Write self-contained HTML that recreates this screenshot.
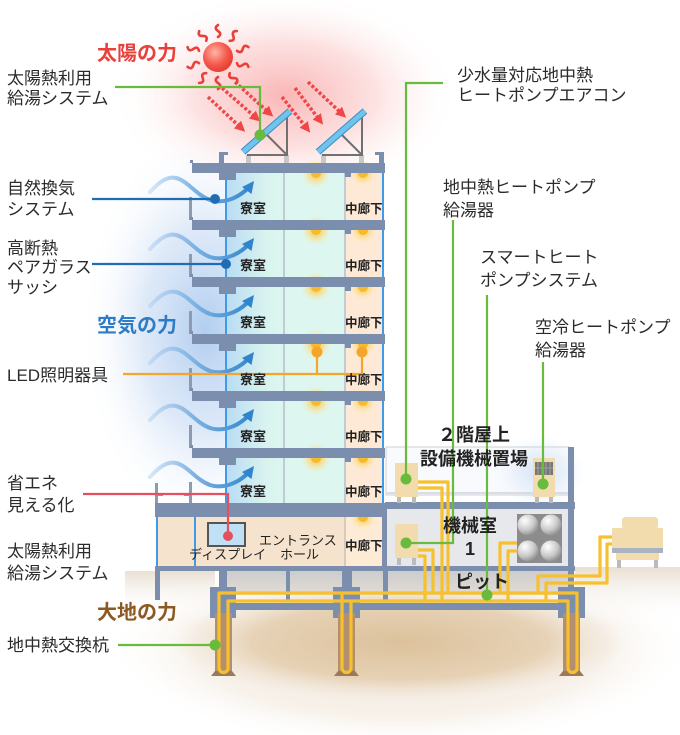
<!DOCTYPE html>
<html><head><meta charset="utf-8">
<style>
html,body{margin:0;padding:0;background:#fff;width:680px;height:735px;overflow:hidden;}
svg{display:block;}
text{font-family:"Liberation Sans","Noto Sans CJK JP",sans-serif;}
.lb{font-size:17px;fill:#2b2b2b;}
.rm{font-size:13px;font-weight:bold;fill:#222;}
.cr{font-size:12.5px;font-weight:bold;fill:#222;}
.big{font-size:20px;font-weight:bold;}
.eq{font-size:18px;font-weight:bold;fill:#222;}
</style></head><body>
<svg width="680" height="735" viewBox="0 0 680 735" xmlns="http://www.w3.org/2000/svg">
<defs>
 <radialGradient id="pink"><stop offset="0" stop-color="#f9a9a9" stop-opacity="0.85"/><stop offset="0.5" stop-color="#fbc6c6" stop-opacity="0.55"/><stop offset="1" stop-color="#ffffff" stop-opacity="0"/></radialGradient>
 <radialGradient id="blueg"><stop offset="0" stop-color="#a9c8ee" stop-opacity="0.9"/><stop offset="0.5" stop-color="#c8dbf4" stop-opacity="0.6"/><stop offset="1" stop-color="#ffffff" stop-opacity="0"/></radialGradient>
 <radialGradient id="g1"><stop offset="0" stop-color="#efe3d4" stop-opacity="1"/><stop offset="0.7" stop-color="#f4ece2" stop-opacity="0.7"/><stop offset="1" stop-color="#ffffff" stop-opacity="0"/></radialGradient>
 <radialGradient id="g2"><stop offset="0" stop-color="#dcc19b"/><stop offset="0.65" stop-color="#e5cfb1" stop-opacity="0.9"/><stop offset="1" stop-color="#efe3d4" stop-opacity="0"/></radialGradient>
 <radialGradient id="sun" cx="0.4" cy="0.35" r="0.7"><stop offset="0" stop-color="#ffb4a6"/><stop offset="0.6" stop-color="#f3574a"/><stop offset="1" stop-color="#e33a2e"/></radialGradient>
 <radialGradient id="lg"><stop offset="0" stop-color="#f8b82a" stop-opacity="1"/><stop offset="0.45" stop-color="#fbd56a" stop-opacity="0.7"/><stop offset="1" stop-color="#fde9a8" stop-opacity="0"/></radialGradient>
 <radialGradient id="sph" cx="0.35" cy="0.3" r="0.75"><stop offset="0" stop-color="#ffffff"/><stop offset="0.6" stop-color="#c9c9c9"/><stop offset="1" stop-color="#8a8a8a"/></radialGradient>
 <linearGradient id="rg" x1="0" y1="0" x2="1" y2="0"><stop offset="0" stop-color="#b9dcf3"/><stop offset="0.7" stop-color="#d9f3ef"/><stop offset="1" stop-color="#ddf6ef"/></linearGradient>
 <linearGradient id="wv" gradientUnits="userSpaceOnUse" x1="145" y1="0" x2="255" y2="0"><stop offset="0" stop-color="#9cc4ec" stop-opacity="0.3"/><stop offset="0.45" stop-color="#7db2e2"/><stop offset="1" stop-color="#2f84cc"/></linearGradient>
 <linearGradient id="pit" x1="0" y1="0" x2="0" y2="1"><stop offset="0" stop-color="#cdcdcf"/><stop offset="1" stop-color="#e2dbd2"/></linearGradient>
 <linearGradient id="gr" x1="0" y1="0" x2="0" y2="1"><stop offset="0" stop-color="#e9dfd2"/><stop offset="1" stop-color="#ffffff" stop-opacity="0"/></linearGradient>
 <marker id="ah" viewBox="0 0 10 10" refX="2" refY="5" markerWidth="3" markerHeight="3" orient="auto"><path d="M0,0 L10,5 L0,10 z" fill="#ef4646"/></marker>
 <g id="fl">
  <rect x="226" y="10" width="58" height="47" fill="url(#rg)"/>
  <rect x="284" y="10" width="61" height="47" fill="#ddf6ef"/>
  <rect x="345" y="10" width="38" height="47" fill="#fde9d5"/>
  <circle cx="316" cy="10" r="15" fill="url(#lg)"/>
  <circle cx="363" cy="10" r="13" fill="url(#lg)"/>
  <path d="M311,10 a5,5 0 0 0 10,0z" fill="#f8b92c"/>
  <path d="M358,10 a5,5 0 0 0 10,0z" fill="#f8b92c"/>
  <line x1="284" y1="10" x2="284" y2="57" stroke="#b3bfcc" stroke-width="1.5"/>
  <line x1="345" y1="10" x2="345" y2="57" stroke="#b3bfcc" stroke-width="1.5"/>
  <line x1="226" y1="10" x2="226" y2="57" stroke="#3d9be9" stroke-width="2"/>
  <line x1="383" y1="10" x2="383" y2="57" stroke="#3d9be9" stroke-width="2"/>
  <rect x="192" y="0" width="193" height="10" fill="#7c8eae"/>
  <rect x="219" y="10" width="17" height="7" fill="#7c8eae"/>
  <rect x="345" y="10" width="6" height="4" fill="#7c8eae"/>
  <rect x="190" y="-3" width="3" height="3" fill="#7c8eae"/>
  <rect x="189" y="34" width="3" height="23" fill="#8d9ab0"/>
  <path d="M150,29 C160,18 168,13 176,15 C188,18 196,32 210,37 C222,41 236,36 246,27" fill="none" stroke="url(#wv)" stroke-width="4" stroke-linecap="round"/>
  <polygon points="254,18 251.5,31 242,24" fill="#2f84cc"/>
 </g>
</defs>

<rect width="680" height="735" fill="#fff"/>

<!-- glows -->
<ellipse cx="285" cy="95" rx="175" ry="105" fill="url(#pink)"/>
<ellipse cx="205" cy="330" rx="125" ry="205" fill="url(#blueg)"/>
<ellipse cx="540" cy="472" rx="48" ry="38" fill="url(#blueg)"/>

<!-- ground -->
<ellipse cx="400" cy="648" rx="295" ry="100" fill="url(#g1)"/>
<rect x="575" y="567" width="105" height="55" fill="url(#gr)"/>
<rect x="125" y="571" width="90" height="45" fill="url(#gr)"/>
<ellipse cx="400" cy="642" rx="228" ry="58" fill="url(#g2)"/>

<!-- pit -->
<rect x="227" y="571" width="343" height="24" fill="url(#pit)"/>
<rect x="155" y="571" width="5" height="29" fill="#7c8eae"/>
<rect x="219" y="571" width="8" height="17" fill="#7c8eae"/>
<rect x="286" y="571" width="4" height="29" fill="#7c8eae"/>
<rect x="342" y="571" width="10" height="17" fill="#7c8eae"/>
<rect x="383" y="571" width="5" height="29" fill="#7c8eae"/>
<rect x="568" y="571" width="6" height="20" fill="#7c8eae"/>

<!-- foundation -->
<rect x="236" y="603" width="322" height="7" fill="#7c8eae"/>
<rect x="210" y="587" width="26" height="31" fill="#7c8eae"/>
<rect x="333" y="587" width="27" height="31" fill="#7c8eae"/>
<rect x="558" y="587" width="27" height="31" fill="#7c8eae"/>
<rect x="215" y="613" width="17" height="59" fill="#b48f6e"/>
<rect x="338" y="613" width="17" height="59" fill="#b48f6e"/>
<rect x="563" y="613" width="17" height="59" fill="#b48f6e"/>
<polygon points="211,676 236,676 232,671 215,671" fill="#9b7a5c"/>
<polygon points="334,676 359,676 355,671 338,671" fill="#9b7a5c"/>
<polygon points="559,676 584,676 580,671 563,671" fill="#9b7a5c"/>

<!-- floors -->
<use href="#fl" x="0" y="163"/>
<use href="#fl" x="0" y="220"/>
<use href="#fl" x="0" y="277"/>
<use href="#fl" x="0" y="334"/>
<use href="#fl" x="0" y="391"/>
<use href="#fl" x="0" y="448"/>

<!-- 2F balcony post -->
<rect x="155" y="483" width="3" height="20" fill="#8d9ab0"/>
<rect x="155" y="494" width="8" height="2" fill="#8d9ab0"/>
<rect x="184" y="494" width="8" height="2" fill="#8d9ab0"/>

<!-- 1F -->
<rect x="157" y="517" width="188" height="49" fill="#f6e3cd"/>
<rect x="345" y="517" width="38" height="49" fill="#fdebd6"/>
<circle cx="363" cy="517" r="13" fill="url(#lg)"/>
<path d="M358,517 a5,5 0 0 0 10,0z" fill="#f8b92c"/>
<line x1="157" y1="517" x2="157" y2="566" stroke="#3d9be9" stroke-width="2"/>
<line x1="195" y1="517" x2="195" y2="566" stroke="#3d9be9" stroke-width="2"/>
<line x1="345" y1="517" x2="345" y2="566" stroke="#c9c2b8" stroke-width="1.5"/>
<rect x="155" y="503" width="230" height="14" fill="#7c8eae"/>
<rect x="382" y="503" width="5" height="68" fill="#7c8eae"/>
<rect x="155" y="566" width="420" height="5" fill="#7c8eae"/>
<rect x="208" y="523" width="37" height="23" fill="#bfe0f5" stroke="#555" stroke-width="2"/>

<!-- right part -->
<rect x="386" y="447" width="183" height="48" fill="#f2f6fc" fill-opacity="0.55" stroke="#cdd2da" stroke-width="1"/>
<line x1="386" y1="493" x2="568" y2="493" stroke="#cfd4dc" stroke-width="1.5"/>
<rect x="385" y="502" width="190" height="7" fill="#7c8eae"/>
<rect x="387" y="509" width="181" height="57" fill="#e7e8ec"/>
<rect x="568" y="447" width="6" height="124" fill="#7c8eae"/>
<!-- units -->
<rect x="395" y="463" width="23" height="34" fill="#f2dcae"/>
<rect x="397" y="497" width="4" height="6" fill="#bbb"/><rect x="412" y="497" width="4" height="6" fill="#bbb"/>
<rect x="395" y="524" width="23" height="34" fill="#f2dcae"/>
<rect x="397" y="558" width="4" height="7" fill="#bbb"/><rect x="412" y="558" width="4" height="7" fill="#bbb"/>
<rect x="533" y="458" width="22" height="39" fill="#f2dcae"/>
<rect x="535" y="462" width="18" height="13" fill="#777"/>
<g stroke="#aaa" stroke-width="0.8"><line x1="538" y1="462" x2="538" y2="475"/><line x1="542" y1="462" x2="542" y2="475"/><line x1="546" y1="462" x2="546" y2="475"/><line x1="550" y1="462" x2="550" y2="475"/><line x1="535" y1="468" x2="553" y2="468"/></g>
<rect x="535" y="497" width="4" height="6" fill="#bbb"/><rect x="549" y="497" width="4" height="6" fill="#bbb"/>
<rect x="517" y="514" width="45" height="49" fill="#8c8c8c"/>
<circle cx="528" cy="525" r="10.5" fill="url(#sph)"/>
<circle cx="551" cy="525" r="10.5" fill="url(#sph)"/>
<circle cx="528" cy="551" r="10.5" fill="url(#sph)"/>
<circle cx="551" cy="551" r="10.5" fill="url(#sph)"/>
<!-- cooling tower -->
<rect x="622" y="517" width="36" height="12" rx="3" fill="#f2dcae"/>
<rect x="612" y="528" width="51" height="20" fill="#f2dcae"/>
<rect x="612" y="548" width="51" height="5" fill="#a9b3c2"/>
<rect x="616" y="553" width="43" height="7" fill="#f2dcae"/>
<rect x="617" y="560" width="4" height="8" fill="#bbb"/><rect x="654" y="560" width="4" height="8" fill="#bbb"/>

<!-- roof -->
<rect x="219" y="152" width="5" height="12" fill="#7c8eae"/>
<rect x="219" y="152" width="9" height="3" fill="#7c8eae"/>
<rect x="379" y="152" width="5" height="12" fill="#7c8eae"/>
<rect x="375" y="152" width="9" height="3" fill="#7c8eae"/>
<rect x="246" y="155" width="5" height="8" fill="#c8c8c8"/>
<rect x="284" y="155" width="5" height="8" fill="#c8c8c8"/>
<rect x="321" y="155" width="5" height="8" fill="#c8c8c8"/>
<rect x="359" y="155" width="5" height="8" fill="#c8c8c8"/>
<g stroke="#707070" stroke-width="2" fill="none">
 <polyline points="247,155 287,155 287,116"/><line x1="266" y1="134" x2="287" y2="155"/>
 <polyline points="322,155 362,155 362,116"/><line x1="341" y1="134" x2="362" y2="155"/>
</g>
<line x1="243" y1="152" x2="290" y2="111" stroke="#3a8ec4" stroke-width="7"/>
<line x1="243" y1="152" x2="290" y2="111" stroke="#6ec4ea" stroke-width="5"/>
<line x1="318" y1="152" x2="365" y2="111" stroke="#3a8ec4" stroke-width="7"/>
<line x1="318" y1="152" x2="365" y2="111" stroke="#6ec4ea" stroke-width="5"/>

<!-- red arrows -->
<g stroke="#ef4646" stroke-width="3.5" stroke-dasharray="3 2" fill="none" marker-end="url(#ah)">
 <line x1="208" y1="97" x2="239" y2="126"/>
 <line x1="222" y1="88" x2="254" y2="116"/>
 <line x1="235" y1="82" x2="267" y2="111"/>
 <line x1="282" y1="97" x2="305" y2="126"/>
 <line x1="295" y1="88" x2="318" y2="118"/>
 <line x1="308" y1="82" x2="340" y2="112"/>
</g>

<!-- sun -->
<g transform="translate(218,57)" stroke="#e8413c" stroke-width="2.6" fill="none" stroke-linecap="round">
 <path d="M0,-20 c3,-2 3,-4 0,-6 c-3,-2 -3,-4 0,-6" transform="rotate(0)"/>
 <path d="M0,-20 c3,-2 3,-4 0,-6 c-3,-2 -3,-4 0,-6" transform="rotate(36)"/>
 <path d="M0,-20 c3,-2 3,-4 0,-6 c-3,-2 -3,-4 0,-6" transform="rotate(72)"/>
 <path d="M0,-20 c3,-2 3,-4 0,-6 c-3,-2 -3,-4 0,-6" transform="rotate(108)"/>
 <path d="M0,-20 c3,-2 3,-4 0,-6 c-3,-2 -3,-4 0,-6" transform="rotate(144)"/>
 <path d="M0,-20 c3,-2 3,-4 0,-6 c-3,-2 -3,-4 0,-6" transform="rotate(180)"/>
 <path d="M0,-20 c3,-2 3,-4 0,-6 c-3,-2 -3,-4 0,-6" transform="rotate(216)"/>
 <path d="M0,-20 c3,-2 3,-4 0,-6 c-3,-2 -3,-4 0,-6" transform="rotate(252)"/>
 <path d="M0,-20 c3,-2 3,-4 0,-6 c-3,-2 -3,-4 0,-6" transform="rotate(288)"/>
 <path d="M0,-20 c3,-2 3,-4 0,-6 c-3,-2 -3,-4 0,-6" transform="rotate(324)"/>
</g>
<circle cx="218" cy="57" r="15" fill="url(#sun)"/>

<!-- yellow pipes -->
<g stroke="#f6c12c" stroke-width="3.2" fill="none" stroke-linejoin="round">
 <path d="M577,668 V593 H219 V668 A4.5,4.5 0 0 0 228,668 V601 H568 V668 A4.5,4.5 0 0 0 577,668"/>
 <path d="M342,593 V668 A4.5,4.5 0 0 0 351,668 V601"/>
 <path d="M418,482 H448 V593"/>
 <path d="M418,488 H442 V601"/>
 <path d="M418,550 H433 V593"/>
 <path d="M418,556 H425 V601"/>
 <path d="M517,543 H500 V593"/>
 <path d="M517,551 H508 V601"/>
 <path d="M612,537 H600 V576 H538 V593"/>
 <path d="M612,544 H607 V583 H546 V601"/>
</g>

<!-- leader lines -->
<g fill="none" stroke-width="2.2">
 <path d="M115,87 H260 V135" stroke="#68bb3c"/>
 <path d="M443,83 H406 V479" stroke="#68bb3c"/>
 <path d="M453,220 V543 H406" stroke="#68bb3c"/>
 <path d="M487,295 V595" stroke="#68bb3c"/>
 <path d="M543,362 V484" stroke="#68bb3c"/>
 <path d="M118,645 H215" stroke="#68bb3c"/>
 <path d="M92,199 H215" stroke="#1e6db5"/>
 <path d="M92,264 H226" stroke="#1e6db5"/>
 <path d="M123,374 H362 M317,374 V352 M362,374 V352" stroke="#f5a52a"/>
 <path d="M83,494 H228 V536" stroke="#e4505f"/>
</g>
<g fill="#68bb3c">
 <circle cx="260" cy="135" r="5.5"/><circle cx="406" cy="479" r="5.5"/><circle cx="406" cy="543" r="5.5"/>
 <circle cx="487" cy="595" r="5.5"/><circle cx="543" cy="484" r="5.5"/><circle cx="215" cy="645" r="5.5"/>
</g>
<circle cx="215" cy="199" r="5" fill="#1e6db5"/>
<circle cx="226" cy="264" r="5" fill="#1e6db5"/>
<circle cx="317" cy="352" r="5.5" fill="#f5a52a"/>
<circle cx="362" cy="352" r="5.5" fill="#f5a52a"/>
<circle cx="228" cy="536" r="5" fill="#e4505f"/>

<!-- room labels -->
<text class="rm" x="240" y="213">寮室</text><text class="cr" x="345" y="213">中廊下</text>
<text class="rm" x="240" y="270">寮室</text><text class="cr" x="345" y="270">中廊下</text>
<text class="rm" x="240" y="327">寮室</text><text class="cr" x="345" y="327">中廊下</text>
<text class="rm" x="240" y="384">寮室</text><text class="cr" x="345" y="384">中廊下</text>
<text class="rm" x="240" y="441">寮室</text><text class="cr" x="345" y="441">中廊下</text>
<text class="rm" x="240" y="496">寮室</text><text class="cr" x="345" y="496">中廊下</text>
<text class="cr" x="345" y="550">中廊下</text>
<text class="rm" x="259" y="545" style="font-weight:normal;font-size:13px">エントランス</text>
<text class="rm" x="280" y="559" style="font-weight:normal;font-size:13px">ホール</text>
<text class="rm" x="189" y="559" style="font-weight:normal;font-size:13px">ディスプレイ</text>

<text class="eq" x="474" y="441" text-anchor="middle">２階屋上</text>
<text class="eq" x="474" y="465" text-anchor="middle">設備機械置場</text>
<text class="eq" x="470" y="532" text-anchor="middle">機械室</text>
<text class="eq" x="470" y="555" text-anchor="middle">1</text>
<text class="eq" x="482" y="588" text-anchor="middle">ピット</text>

<!-- titles -->
<text class="big" x="97" y="60" fill="#e8413c">太陽の力</text>
<text class="big" x="97" y="332" fill="#2e7cc4">空気の力</text>
<text class="big" x="97" y="619" fill="#8a5a22">大地の力</text>

<!-- left labels -->
<text class="lb" x="7" y="84">太陽熱利用</text>
<text class="lb" x="7" y="104">給湯システム</text>
<text class="lb" x="7" y="194">自然換気</text>
<text class="lb" x="7" y="215">システム</text>
<text class="lb" x="7" y="254">高断熱</text>
<text class="lb" x="7" y="273">ペアガラス</text>
<text class="lb" x="7" y="293">サッシ</text>
<text class="lb" x="7" y="381">LED照明器具</text>
<text class="lb" x="7" y="489">省エネ</text>
<text class="lb" x="7" y="511">見える化</text>
<text class="lb" x="7" y="557">太陽熱利用</text>
<text class="lb" x="7" y="579">給湯システム</text>
<text class="lb" x="7" y="651">地中熱交換杭</text>

<!-- right labels -->
<text class="lb" x="457" y="81">少水量対応地中熱</text>
<text class="lb" x="457" y="101">ヒートポンプエアコン</text>
<text class="lb" x="443" y="193">地中熱ヒートポンプ</text>
<text class="lb" x="443" y="216">給湯器</text>
<text class="lb" x="480" y="263">スマートヒート</text>
<text class="lb" x="480" y="286">ポンプシステム</text>
<text class="lb" x="535" y="333">空冷ヒートポンプ</text>
<text class="lb" x="535" y="356">給湯器</text>
</svg>
</body></html>
